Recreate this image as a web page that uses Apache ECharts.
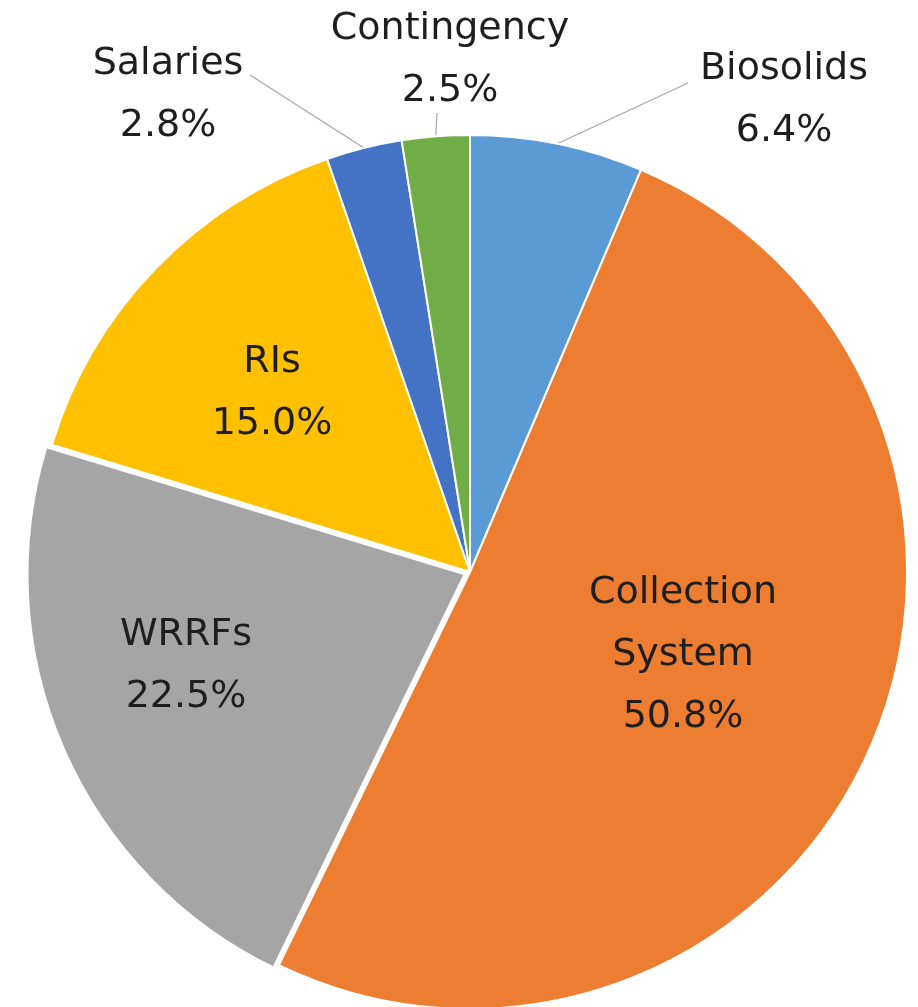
<!DOCTYPE html>
<html>
<head>
<meta charset="utf-8">
<script src="https://cdn.jsdelivr.net/npm/echarts@6/dist/echarts.min.js"></script>
<style>
    html, body { margin: 0; padding: 0; background: #fff; }
    #chart { width: 918px; height: 1007px; }
</style>
</head>
<body>
<div id="chart"></div>
<script>
'use strict';

// slices, clockwise from 12 o'clock
var categories = ['Biosolids', 'Collection System', 'WRRFs', 'RIs', 'Salaries', 'Contingency'];
var shares = [6.4, 50.8, 22.5, 15.0, 2.8, 2.5];
var colors = ['#5B9BD5', '#ED7D31', '#A5A5A5', '#FFC000', '#4472C4', '#70AD47'];
var outsideLabels = ['Biosolids', 'Salaries', 'Contingency'];
var explodedSlice = 'WRRFs';

// label centres and leader line ends, in pixels
var labelPos = {
    'Biosolids': { x: 784, y: 100, lineEnd: [688, 83] },
    'Collection System': { x: 683, y: 655 },
    'WRRFs': { x: 186, y: 666 },
    'RIs': { x: 272, y: 393 },
    'Salaries': { x: 168, y: 95, lineEnd: [250, 75] },
    'Contingency': { x: 450, y: 60, lineEnd: [437, 113] }
};

var center = [470, 572];
var radius = 437;
var explodeBy = 6;

// shift for the pulled-out slice, along its middle angle
var total = shares.reduce(function (a, b) { return a + b; }, 0);
var before = 0;
for (var k = 0; k < categories.indexOf(explodedSlice); k++) {
    before += shares[k];
}
var midAngle = (before + shares[categories.indexOf(explodedSlice)] / 2) / total * Math.PI * 2;
var explodedCenter = [center[0] + Math.sin(midAngle) * explodeBy, center[1] - Math.cos(midAngle) * explodeBy];

var chart = echarts.init(document.getElementById('chart'), null, { renderer: 'canvas' });

var hidden = { color: 'rgba(0,0,0,0)', borderWidth: 0 };

var mainData = categories.map(function (name, i) {
    var outside = outsideLabels.indexOf(name) >= 0;
    return {
        name: name,
        value: shares[i],
        itemStyle: name === explodedSlice ? hidden : { color: colors[i] },
        label: { position: outside ? 'outside' : 'inside' },
        labelLine: { show: outside }
    };
});

var explodedData = categories.map(function (name, i) {
    return {
        name: name,
        value: shares[i],
        itemStyle: name === explodedSlice ? { color: colors[i] } : hidden
    };
});

var options = {
    animation: false,
    series: [{
        type: 'pie',
        center: explodedCenter,
        radius: radius,
        startAngle: 90,
        clockwise: true,
        silent: true,
        itemStyle: { borderColor: '#fff', borderWidth: 2 },
        label: { show: false },
        labelLine: { show: false },
        data: explodedData
    }, {
        type: 'pie',
        center: center,
        radius: radius,
        startAngle: 90,
        clockwise: true,
        avoidLabelOverlap: false,
        itemStyle: { borderColor: '#fff', borderWidth: 2 },
        emphasis: { disabled: true },
        label: {
            show: true,
            color: '#1e1e1e',
            fontFamily: 'DejaVu Sans',
            fontSize: 38,
            lineHeight: 62,
            align: 'center',
            formatter: function (p) {
                return p.name.replace(' ', '\n') + '\n' + p.value.toFixed(1) + '%';
            }
        },
        labelLine: {
            lineStyle: { color: '#A6A6A6', width: 1.2 }
        },
        labelLayout: function (params) {
            var pos = labelPos[categories[params.dataIndex]];
            var out = { x: pos.x, y: pos.y, align: 'center', verticalAlign: 'middle' };
            if (pos.lineEnd && params.labelLinePoints) {
                out.labelLinePoints = [params.labelLinePoints[0], pos.lineEnd];
            }
            return out;
        },
        data: mainData
    }]
};

chart.setOption(options);
</script>
</body>
</html>
